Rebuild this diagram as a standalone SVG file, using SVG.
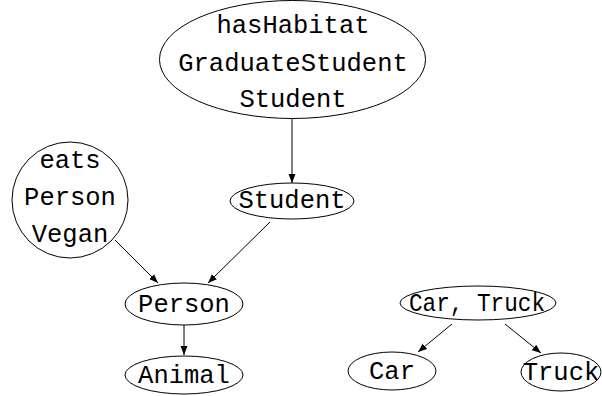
<svg xmlns="http://www.w3.org/2000/svg" width="602" height="396" viewBox="0 0 602 396">
<style>
.n ellipse, .n circle { fill: none; stroke: #000; stroke-width: 1; }
.n text { font-family: "Liberation Mono", "DejaVu Sans Mono", monospace; font-size: 25.5px; fill: #000; text-anchor: middle; }
.e line { stroke: #000; stroke-width: 1; marker-end: url(#ah); }
</style>
<defs>
<marker id="ah" markerUnits="userSpaceOnUse" markerWidth="10" markerHeight="8" refX="9" refY="4" orient="auto">
<path d="M0,0.5 L9,4 L0,7.5 Z" fill="#000"/>
</marker>
</defs>
<g id="connectors" class="e">
<line x1="292" y1="119" x2="292" y2="183"/>
<line x1="115" y1="240" x2="158" y2="283"/>
<line x1="270" y1="222" x2="208" y2="283"/>
<line x1="184" y1="325" x2="184" y2="355"/>
<line x1="452" y1="324" x2="418" y2="352"/>
<line x1="505" y1="324" x2="541" y2="353"/>
</g>
<g id="n_top" class="n">
<ellipse cx="292.5" cy="59.5" rx="133" ry="59"/>
<text x="293" y="33">hasHabitat</text>
<text x="293" y="71">GraduateStudent</text>
<text x="293" y="107">Student</text>
</g>
<g id="n_student" class="n">
<ellipse cx="292" cy="201" rx="62" ry="18"/>
<text x="292" y="208">Student</text>
</g>
<g id="n_vegan" class="n">
<circle cx="70" cy="200" r="58"/>
<text x="70" y="168">eats</text>
<text x="70" y="205">Person</text>
<text x="70" y="242">Vegan</text>
</g>
<g id="n_person" class="n">
<ellipse cx="184" cy="304" rx="59" ry="21"/>
<text x="184" y="312">Person</text>
</g>
<g id="n_animal" class="n">
<ellipse cx="184" cy="375" rx="59" ry="19"/>
<text x="184" y="383">Animal</text>
</g>
<g id="n_cartruck" class="n">
<ellipse cx="478" cy="303" rx="78" ry="17"/>
<text x="477" y="311" textLength="136" lengthAdjust="spacingAndGlyphs">Car, Truck</text>
</g>
<g id="n_car" class="n">
<ellipse cx="392" cy="371" rx="44" ry="19"/>
<text x="392" y="379">Car</text>
</g>
<g id="n_truck" class="n">
<ellipse cx="561" cy="372" rx="40" ry="19"/>
<text x="561" y="380">Truck</text>
</g>
</svg>
